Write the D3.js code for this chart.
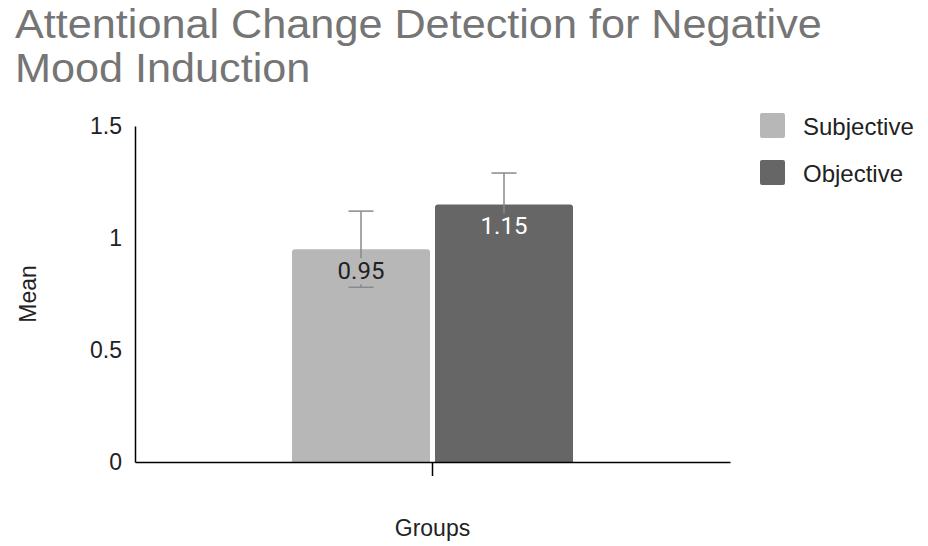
<!DOCTYPE html>
<html><head><meta charset="utf-8">
<script src="https://cdn.jsdelivr.net/npm/d3@7"></script>
<style>body{margin:0;background:#fff}svg{display:block}</style>
</head><body><div id="c"></div>
<script>
const titleLines = ["Attentional Change Detection for Negative", "Mood Induction"];
const groups = ["Negative Mood Induction"];
const series = ["Subjective", "Objective"];
const means = [0.95, 1.15];
const errLow = [0.17, 0.14];
const errHigh = [0.17, 0.14];
const yTicks = [0, 0.5, 1, 1.5];
const colors = ["#b7b7b7", "#666666"];
const labelColors = ["#222222", "#ffffff"];

const W = 928, H = 546;
const m = {left: 135, right: 198, top: 126, bottom: 84};
const FONT = "Liberation Sans, Arial, sans-serif";
const svg = d3.select("#c").append("svg").attr("width", W).attr("height", H);

svg.append("g").attr("transform", "translate(15,0) scale(1.08,1)")
  .append("text").attr("x", 0).attr("y", 38).attr("fill", "#757575")
  .attr("font-family", FONT).attr("font-size", 40)
  .selectAll("tspan").data(titleLines).join("tspan")
  .attr("x", 0).attr("dy", (d, i) => i ? 44 : 0).text(d => d);

const y = d3.scaleLinear().domain([0, 1.5]).range([H - m.bottom, m.top]);
const x0 = d3.scaleBand().domain(groups).range([m.left, W - m.right]).paddingInner(0).paddingOuter(0.5587);
const x1 = d3.scaleBand().domain(series).range([0, x0.bandwidth()]).paddingInner(0.035);

// y axis
const ya = svg.append("g").attr("transform", `translate(${m.left},0)`)
  .call(d3.axisLeft(y).tickValues(yTicks).tickSize(0).tickSizeOuter(0).tickPadding(13).tickFormat(d3.format("")));
ya.select(".domain").attr("stroke", "#000").attr("stroke-width", 1.5);
ya.selectAll("text").attr("font-family", FONT).attr("font-size", 23).attr("fill", "#222");

const g = svg.append("g");
const data = series.map((s, i) => ({s, v: means[i], lo: errLow[i], hi: errHigh[i], c: colors[i], lc: labelColors[i]}));
const gx = x0(groups[0]);
const cx = d => gx + x1(d.s) + x1.bandwidth() / 2;
g.selectAll("path.bar").data(data).join("path").attr("class", "bar")
  .attr("fill", d => d.c)
  .attr("d", d => {
    const x = gx + x1(d.s), w = x1.bandwidth(), t = y(d.v), b = y(0), r = 3;
    return `M${x},${b}V${t + r}Q${x},${t} ${x + r},${t}H${x + w - r}Q${x + w},${t} ${x + w},${t + r}V${b}Z`;
  });

// error bars
const eb = g.selectAll("g.err").data(data).join("g").attr("class", "err")
  .attr("stroke", "#8a8a8a").attr("stroke-width", 1.5);
eb.append("line").attr("x1", cx).attr("x2", cx)
  .attr("y1", d => y(d.v + d.hi)).attr("y2", d => y(d.v - d.lo));
eb.append("line").attr("x1", d => cx(d) - 12.5).attr("x2", d => cx(d) + 12.5)
  .attr("y1", d => y(d.v + d.hi)).attr("y2", d => y(d.v + d.hi));
eb.append("line").attr("x1", d => cx(d) - 12.5).attr("x2", d => cx(d) + 12.5)
  .attr("y1", d => y(d.v - d.lo)).attr("y2", d => y(d.v - d.lo));

// labels with background
const lab = g.selectAll("g.lab").data(data).join("g").attr("class", "lab");
lab.append("rect").attr("fill", d => d.c)
  .attr("x", d => cx(d) - 27).attr("width", 54)
  .attr("y", d => y(d.v) + 9).attr("height", 26);
lab.append("text").attr("text-anchor", "middle").attr("fill", d => d.lc)
  .attr("font-family", "Roboto, sans-serif").attr("font-size", 24)
  .attr("x", cx).attr("y", d => y(d.v) + 30).text(d => d.v.toFixed(2));

// x axis
const xa = svg.append("g").attr("transform", `translate(0,${y(0)})`)
  .call(d3.axisBottom(x0).tickSize(14).tickSizeOuter(0).tickFormat(""));
xa.select(".domain").attr("stroke", "#000").attr("stroke-width", 1.5);
xa.selectAll(".tick line").attr("stroke", "#000").attr("stroke-width", 1.5);

svg.append("text").attr("x", (m.left + W - m.right) / 2).attr("y", 536).attr("text-anchor", "middle")
  .attr("font-family", FONT).attr("font-size", 23).attr("fill", "#222").text("Groups");
svg.append("text").attr("transform", `translate(36,294) rotate(-90)`).attr("text-anchor", "middle")
  .attr("font-family", FONT).attr("font-size", 23).attr("fill", "#222").text("Mean");

// legend
const lg = svg.selectAll("g.leg").data(series).join("g").attr("class", "leg")
  .attr("transform", (d, i) => `translate(760,${113 + i * 47})`);
lg.append("rect").attr("width", 25).attr("height", 25).attr("rx", 2).attr("fill", (d, i) => colors[i]);
lg.append("text").attr("x", 43).attr("y", 22).attr("font-family", FONT)
  .attr("font-size", 24).attr("fill", "#222").text(d => d);
</script></body></html>
